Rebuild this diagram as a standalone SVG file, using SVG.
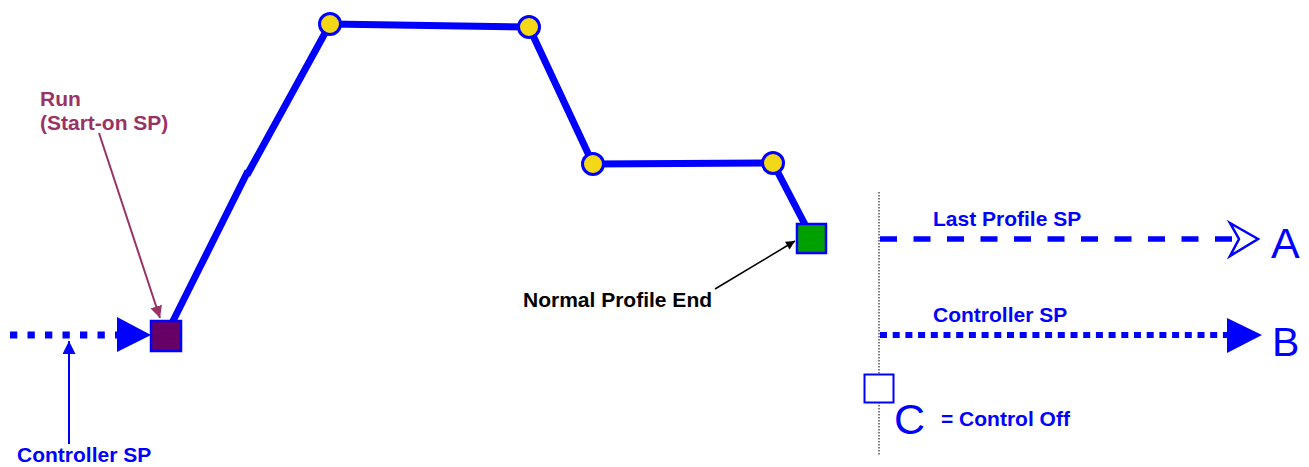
<svg xmlns="http://www.w3.org/2000/svg" width="1309" height="467" viewBox="0 0 1309 467">
<style>
.t{font-family:"Liberation Sans",Arial,sans-serif;font-weight:bold;font-size:21px}
.blue{fill:#0000ff}
.big{font-family:"Liberation Sans",Arial,sans-serif;font-weight:normal;fill:#0000ff}
.prof{stroke:#0000ff;stroke-width:7;fill:none;stroke-linejoin:round}
.pt{fill:#f2d817;stroke:#0000ff;stroke-width:3}
</style>
<defs>
<marker id="mRun" viewBox="0 0 10 10" refX="10" refY="5" markerWidth="6" markerHeight="6" orient="auto" markerUnits="strokeWidth">
<path d="M0,0 L10,5 L0,10 z" fill="#993366"/>
</marker>
<marker id="mBlk" viewBox="0 0 10 10" refX="10" refY="5" markerWidth="11" markerHeight="9" orient="auto" markerUnits="userSpaceOnUse">
<path d="M0,0 L10,5 L0,10 z" fill="#000"/>
</marker>
<marker id="mBlue" viewBox="0 0 10 10" refX="10" refY="5" markerWidth="14" markerHeight="13" orient="auto" markerUnits="userSpaceOnUse">
<path d="M0,0 L10,5 L0,10 z" fill="#0000ff"/>
</marker>
</defs>

<g id="connectors">
<!-- profile line -->
<line class="prof" x1="166" y1="335" x2="248" y2="171"/>
<polyline class="prof" points="247,175 330,24 529,27 593,164 773,163 812,238"/>
<!-- left dotted input -->
<line x1="10" y1="335" x2="120" y2="335" stroke="#0000ff" stroke-width="7" stroke-dasharray="7.3 10.2"/>
<polygon points="117,317 151,335 117,352" fill="#0000ff"/>
<!-- controller SP pointer -->
<line x1="69" y1="444" x2="69" y2="341" stroke="#0000ff" stroke-width="2" marker-end="url(#mBlue)"/>
<!-- Run pointer -->
<line x1="99" y1="133" x2="160" y2="318" stroke="#993366" stroke-width="2" marker-end="url(#mRun)"/>
<!-- Normal profile end pointer -->
<line x1="715" y1="289" x2="795" y2="241" stroke="#000" stroke-width="1.5" marker-end="url(#mBlk)"/>
<!-- right panel vertical dotted -->
<line x1="879" y1="192" x2="879" y2="455" stroke="#555" stroke-width="1.5" stroke-dasharray="1.5 1.5"/>
<!-- A dashed -->
<line x1="880" y1="239" x2="1238" y2="239" stroke="#0000ff" stroke-width="5.5" stroke-dasharray="17 16.5"/>
<path d="M1230,223 L1258,239 L1230,256 L1239,239 z" fill="#fff" stroke="#0000ff" stroke-width="2.5" stroke-linejoin="miter"/>
<!-- B dotted -->
<line x1="880" y1="335" x2="1228" y2="335" stroke="#0000ff" stroke-width="6" stroke-dasharray="7 5.7"/>
<polygon points="1227,318 1262,335 1227,353" fill="#0000ff"/>
</g>

<g id="node-run">
<rect x="151" y="321" width="30" height="30" fill="#660066" stroke="#0000ff" stroke-width="2.5"/>
</g>
<g id="node-p1"><circle class="pt" cx="330" cy="24" r="10.5"/></g>
<g id="node-p2"><circle class="pt" cx="529" cy="27" r="10.5"/></g>
<g id="node-p3"><circle class="pt" cx="593" cy="164" r="10.5"/></g>
<g id="node-p4"><circle class="pt" cx="773" cy="163" r="10.5"/></g>
<g id="node-end">
<rect x="797" y="224" width="29" height="29" fill="#00a000" stroke="#0000ff" stroke-width="2.5"/>
</g>
<g id="node-off">
<rect x="864.5" y="374.5" width="29" height="28" fill="#fff" stroke="#0000ff" stroke-width="2"/>
</g>

<g id="labels">
<text class="t" x="40" y="106" fill="#993366">Run</text>
<text class="t" x="40" y="130" fill="#993366">(Start-on SP)</text>
<text class="t blue" x="17" y="462">Controller SP</text>
<text class="t" x="523" y="307" fill="#000">Normal Profile End</text>
<text class="t blue" x="933" y="226">Last Profile SP</text>
<text class="t blue" x="933" y="322">Controller SP</text>
<text class="t blue" x="941" y="426">= Control Off</text>
<text class="big" x="1271" y="258" font-size="43">A</text>
<text class="big" x="1272" y="356" font-size="41">B</text>
<text class="big" x="894" y="434" font-size="43">C</text>
</g>
</svg>
